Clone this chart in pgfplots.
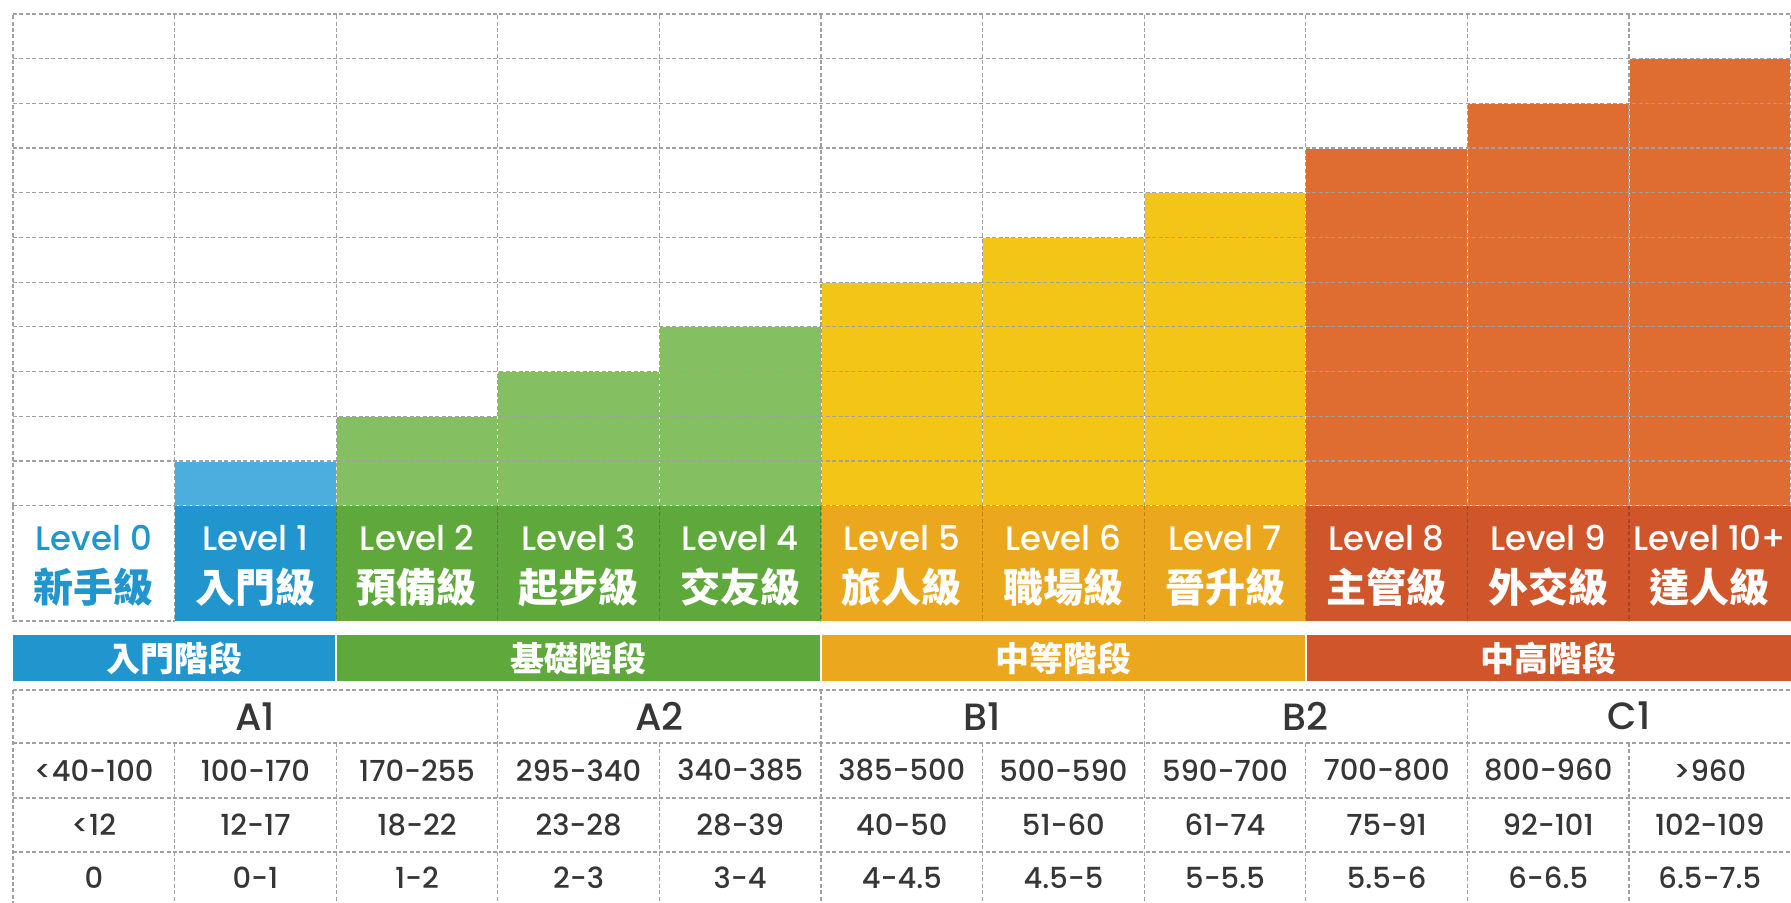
\documentclass[border=0pt]{standalone}
\usepackage{fontspec}
\usepackage{pgfplots}
\pgfplotsset{compat=1.18}
\setmainfont{Poppins Medium}
\newfontfamily\cjk{Noto Sans CJK TC}

\definecolor{barblue}{HTML}{4BAEDD}
\definecolor{cellblue}{HTML}{2196CE}
\definecolor{bargreen}{HTML}{84C062}
\definecolor{cellgreen}{HTML}{5FA83B}
\definecolor{baryellow}{HTML}{F2C517}
\definecolor{cellyellow}{HTML}{EBA81F}
\definecolor{barorange}{HTML}{DF6C31}
\definecolor{cellorange}{HTML}{D1552B}
\definecolor{txtgray}{HTML}{363636}
\definecolor{gridgray}{HTML}{A0A0A0}

\tikzset{griddash/.style={draw=gridgray, dash pattern=on 2pt off 1.2pt, line width=0.6pt}}

\begin{document}
\begin{tikzpicture}
\begin{axis}[
    x=80.8pt, y=22.35pt,
    xmin=-0.5, xmax=10.5, ymin=0, ymax=11,
    clip=false, axis on top,
    axis line style={draw=none},
    tick style={draw=none},
    xtick={-0.5,0.5,...,10.5}, ytick={0,1,...,11},
    xticklabels={}, yticklabels={},
    grid=major,
    major grid style={griddash},
]
% bar height = level number
\addplot[ybar, bar width=1, fill=barblue, draw=white, line width=0.5pt] coordinates {(0,0) (1,1)};
\addplot[ybar, bar width=1, fill=bargreen, draw=white, line width=0.5pt] coordinates {(2,2) (3,3) (4,4)};
\addplot[ybar, bar width=1, fill=baryellow, draw=white, line width=0.5pt] coordinates {(5,5) (6,6) (7,7)};
\addplot[ybar, bar width=1, fill=barorange, draw=white, line width=0.5pt] coordinates {(8,8) (9,9) (10,10)};
\end{axis}

\begin{scope}[x=80.8pt, y=22.35pt, xshift=40.4pt]
% level cells
\foreach \i/\c in {1/cellblue,2/cellgreen,3/cellgreen,4/cellgreen,5/cellyellow,6/cellyellow,7/cellyellow,8/cellorange,9/cellorange,10/cellorange}
  \fill[\c] (\i-0.5,0) rectangle (\i+0.5,-2.579);
\foreach \i in {1.5,2.5,...,9.5}
  \draw[griddash, draw=black, opacity=0.2] (\i,0) -- (\i,-2.579);
\draw[griddash] (-0.5,0) -- (-0.5,-2.579) -- (0.5,-2.579);
\draw[griddash] (0.5,0) -- (0.5,-2.579);

\foreach \i/\lv/\n/\tc in {0/Level 0/新手級/cellblue, 1/Level 1/入門級/white, 2/Level 2/預備級/white,
    3/Level 3/起步級/white, 4/Level 4/交友級/white, 5/Level 5/旅人級/white, 6/Level 6/職場級/white,
    7/Level 7/晉升級/white, 8/Level 8/主管級/white, 9/Level 9/外交級/white, 10/Level 10+/達人級/white}{
  \node[text=\tc, font=\fontsize{17}{19}\selectfont] at (\i,-0.72) {\lv};
  \node[text=\tc, font=\fontsize{20}{22}\selectfont\cjk\bfseries] at (\i,-1.82) {\n};
}

% stage band
\fill[cellblue]   (-0.5,-2.892) rectangle (1.492,-3.921);
\fill[cellgreen]  (1.508,-2.892) rectangle (4.492,-3.921);
\fill[cellyellow] (4.508,-2.892) rectangle (7.492,-3.921);
\fill[cellorange] (7.508,-2.892) rectangle (10.6,-3.921);
\foreach \x/\s in {0.5/入門階段, 3/基礎階段, 6/中等階段, 9/中高階段}
  \node[text=white, font=\fontsize{17}{19}\selectfont\cjk\bfseries] at (\x,-3.407) {\s};

% table grid
\foreach \y in {-4.122,-5.307,-6.537,-7.745}
  \draw[griddash] (-0.5,\y) -- (10.5,\y);
\draw[griddash] (-0.5,-4.122) -- (-0.5,-8.9);
\foreach \x in {2.5,4.5,6.5,8.5}
  \draw[griddash] (\x,-4.122) -- (\x,-5.307);
\foreach \x in {0.5,1.5,...,9.5}
  \draw[griddash] (\x,-5.307) -- (\x,-8.9);

% CEFR row
\foreach \x/\s in {1/A1, 3.5/A2, 5.5/B1, 7.5/B2, 9.5/C1}
  \node[text=txtgray, font=\fontsize{19}{21}\selectfont] at (\x,-4.71) {\s};

% score rows
\foreach \i/\a/\b/\c in {0/<40-100/<12/0, 1/100-170/12-17/0-1, 2/170-255/18-22/1-2,
    3/295-340/23-28/2-3, 4/340-385/28-39/3-4, 5/385-500/40-50/4-4.5, 6/500-590/51-60/4.5-5,
    7/590-700/61-74/5-5.5, 8/700-800/75-91/5.5-6, 9/800-960/92-101/6-6.5, 10/>960/102-109/6.5-7.5}{
  \node[text=txtgray, font=\fontsize{14.5}{16}\selectfont] at (\i,-5.92) {\a};
  \node[text=txtgray, font=\fontsize{14.5}{16}\selectfont] at (\i,-7.14) {\b};
  \node[text=txtgray, font=\fontsize{14.5}{16}\selectfont] at (\i,-8.33) {\c};
}

\pgfresetboundingbox
\path[use as bounding box] (-0.5804,-8.866) rectangle (10.5025,11.313);
\end{scope}
\end{tikzpicture}
\end{document}
